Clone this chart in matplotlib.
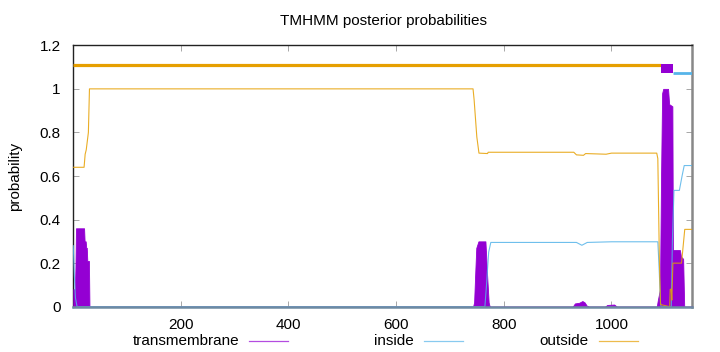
import matplotlib
matplotlib.use("Agg")
import matplotlib.pyplot as plt
from matplotlib.lines import Line2D

plt.rcParams['font.family'] = ['Liberation Sans', 'DejaVu Sans']

# ---- data ----
seq_len = 1150

tm_pos = [1, 4, 5, 6, 21, 22, 24, 25, 26, 27, 30, 31,
          743, 745, 747, 749, 753, 766, 769, 772, 774,
          928, 932, 940, 946, 950, 954, 958,
          988, 992, 1005, 1010,
          1084, 1086, 1090, 1092, 1094, 1096, 1105, 1107, 1113, 1114, 1127, 1129, 1133, 1135, 1150]
tm_val = [0.08, 0.08, 0.18, 0.36, 0.36, 0.30, 0.30, 0.27, 0.27, 0.21, 0.21, 0.0,
          0.0, 0.02, 0.15, 0.27, 0.30, 0.30, 0.15, 0.02, 0.0,
          0.0, 0.015, 0.018, 0.026, 0.02, 0.005, 0.0,
          0.0, 0.008, 0.01, 0.0,
          0.0, 0.03, 0.08, 0.6, 0.98, 1.0, 1.0, 0.93, 0.92, 0.26, 0.26, 0.23, 0.22, 0.0, 0.0]

inside_pos = [1, 3, 5, 8, 765, 768, 772, 776, 935, 945, 955, 1000, 1086, 1088, 1091, 1092,
              1111, 1113, 1116, 1126, 1131, 1135, 1150]
inside_val = [0.28, 0.14, 0.04, 0.0, 0.0, 0.10, 0.25, 0.295, 0.295, 0.282, 0.295, 0.298, 0.298, 0.2, 0.02, 0.0,
              0.0, 0.3, 0.534, 0.534, 0.60, 0.648, 0.648]

outside_pos = [1, 21, 23, 25, 28, 29, 31, 743, 745, 750, 754, 770, 771, 930, 935, 948, 952, 990, 1000,
               1084, 1086, 1089, 1091, 1108, 1109, 1111, 1112, 1114, 1130, 1136, 1150]
outside_val = [0.64, 0.64, 0.70, 0.72, 0.78, 0.80, 1.0, 1.0, 0.95, 0.78, 0.705, 0.703, 0.709, 0.709, 0.697,
               0.695, 0.703, 0.70, 0.705, 0.705, 0.68, 0.2, 0.01, 0.0, 0.08, 0.08, 0.03, 0.2, 0.2, 0.355, 0.355]

# predicted topology: (kind, start, end)
topology = [("outside", 1, 1092), ("TMhelix", 1092, 1114), ("inside", 1114, 1150)]
topo_level = {"outside": 1.11, "inside": 1.072}

legend_labels = ["transmembrane", "inside", "outside"]
yticks = [0, 0.2, 0.4, 0.6, 0.8, 1, 1.2]
ytick_labels = ["0", "0.2", "0.4", "0.6", "0.8", "1", "1.2"]
xticks = [200, 400, 600, 800, 1000]

c_tm = '#9400d3'
c_in = '#56b4e9'
c_out = '#e69f00'

fig = plt.figure(figsize=(7.2, 3.52), dpi=100)
W, H = 720, 352
ax = fig.add_axes([73.3 / W, 45.3 / H, 619.0 / W, 261.4 / H])

# TM posterior (filled impulses)
ax.fill_between(tm_pos, 0, tm_val, color=c_tm, linewidth=0.6, edgecolor=c_tm, zorder=3)
ax.plot(inside_pos, inside_val, color=c_in, lw=0.8, alpha=0.85, zorder=4)
ax.plot(outside_pos, outside_val, color=c_out, lw=0.8, alpha=0.85, zorder=4)

# topology bars
for kind, s, e in topology:
    if kind == "TMhelix":
        ax.fill_between([s, e], topo_level["inside"], topo_level["outside"] + 0.003,
                        color=c_tm, linewidth=0, zorder=5)
    elif kind == "outside":
        ax.hlines(topo_level[kind], s, e, color=c_out, lw=2.3, zorder=5)
    else:
        ax.hlines(topo_level[kind], s, e, color=c_in, lw=2.0, zorder=5)

ax.set_xlim(1, seq_len)
ax.set_ylim(0, 1.2)
ax.set_xticks(xticks)
ax.set_xticklabels([str(t) for t in xticks])
ax.set_yticks(yticks)
ax.set_yticklabels(ytick_labels)
ax.tick_params(direction='in', length=4, width=0.6, color='#999999', top=True, right=True,
               labelsize=11, pad=8)
ax.tick_params(axis='y', pad=9)

for side in ['left', 'top']:
    ax.spines[side].set_color('#222222')
    ax.spines[side].set_linewidth(1.0)
ax.spines['right'].set_color('#888888')
ax.spines['right'].set_linewidth(1.8)
ax.spines['bottom'].set_color('#6d8aa2')
ax.spines['bottom'].set_linewidth(1.8)
ax.spines['bottom'].set_zorder(6)

ax.set_ylabel("probability", fontsize=11, labelpad=13)
fig.text(383 / W, 1 - 20.5 / H, "TMHMM posterior probabilities", ha='center', va='center', fontsize=11)

# key (gnuplot style: text then sample, right-aligned columns)
key_colors = [c_tm, c_in, c_out]
key_ends = [239, 414, 589]
ky = 1 - 341 / H
for lab, col, xe in zip(legend_labels, key_colors, key_ends):
    fig.text(xe / W, ky, lab, ha='right', va='center', fontsize=11)
    fig.add_artist(Line2D([(xe + 10) / W, (xe + 49) / W], [ky, ky], color=col, lw=0.9, alpha=0.7,
                          transform=fig.transFigure))

fig.savefig("out.png", dpi=100)
